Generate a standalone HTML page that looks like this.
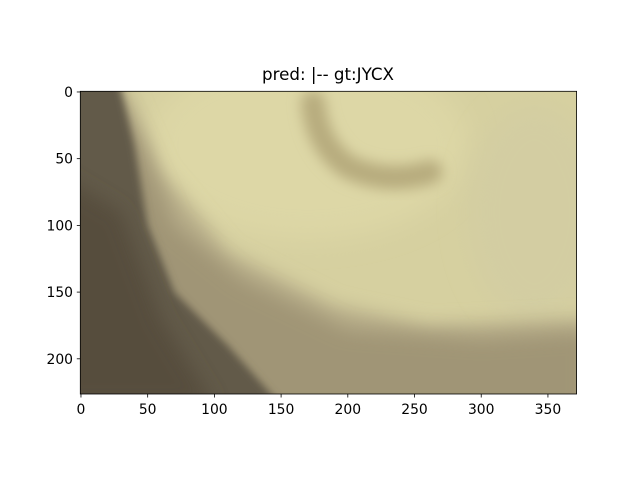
<!DOCTYPE html>
<html><head><meta charset="utf-8"><style>
html,body{margin:0;padding:0;background:#fff;}
svg{display:block;font-family:"DejaVu Sans","Liberation Sans",sans-serif;}
</style></head><body>
<svg width="640" height="480" viewBox="0 0 640 480">
<defs>
<filter id="b6" x="-20%" y="-20%" width="140%" height="140%"><feGaussianBlur stdDeviation="7"/></filter>
<filter id="b3" x="-20%" y="-20%" width="140%" height="140%"><feGaussianBlur stdDeviation="3"/></filter>
<filter id="b5" x="-30%" y="-30%" width="160%" height="160%"><feGaussianBlur stdDeviation="5"/></filter>
<filter id="b10" x="-30%" y="-30%" width="160%" height="160%"><feGaussianBlur stdDeviation="10"/></filter>
<clipPath id="clip"><rect x="-0.5" y="-0.5" width="372" height="227"/></clipPath>
</defs>
<text x="328" y="80" font-size="16.7" text-anchor="middle">pred: |-- gt:JYCX</text>
<svg x="80.3" y="91.3" width="496.3" height="302.7" viewBox="-0.5 -0.5 372 227" preserveAspectRatio="none">
<g clip-path="url(#clip)">
<rect x="-20" y="-20" width="420" height="270" fill="#d6d0a0"/>
<ellipse cx="170" cy="40" rx="120" ry="70" fill="#ddd7a6" filter="url(#b10)"/>
<ellipse cx="340" cy="90" rx="50" ry="80" fill="#d3cda2" filter="url(#b10)"/>
<path d="M30,-10 L60,60 L110,120 L190,160 L260,175 L380,170 L380,240 L-20,240 Z" fill="#b6ac88" filter="url(#b6)"/>
<path d="M20,-10 L45,40 L70,100 L120,140 L200,178 L300,185 L380,180 L380,240 L-20,240 Z" fill="#a09576" filter="url(#b6)"/>
<path d="M-20,-10 L28,-10 L40,40 L50,100 L70,150 L110,190 L150,235 L-20,235 Z" fill="#625a48" filter="url(#b3)"/>
<path d="M-20,60 L30,90 L60,170 L100,235 L-20,235 Z" fill="#564e3e" filter="url(#b6)"/>
<path d="M174,8 Q177,40 200,56 Q230,70 262,60" stroke="#b7ac7e" stroke-width="18" fill="none" stroke-linecap="round" filter="url(#b5)"/>
</g>
</svg>
<rect x="80.3" y="91.3" width="496.3" height="302.7" fill="none" stroke="#000" stroke-width="0.8"/>
<g id="xt"></g>
<g id="yt"></g>
<script>
const xTicks=[0,50,100,150,200,250,300,350];
const yTicks=[0,50,100,150,200];
const x0=80.3,y0=91.3,s=1.3342;
const ns="http://www.w3.org/2000/svg";
const xt=document.getElementById('xt'),yt=document.getElementById('yt');
xTicks.forEach(v=>{
 const px=x0+(v+0.5)*s;
 const l=document.createElementNS(ns,'line');
 
 
 l.setAttribute('x1',px);l.setAttribute('x2',px);l.setAttribute('y1',394);l.setAttribute('y2',397.5);l.setAttribute('stroke','#000');l.setAttribute('stroke-width','0.8');
 xt.appendChild(l);
 const t=document.createElementNS(ns,'text');
 
 
 t.setAttribute('x',px);t.setAttribute('y',414);t.setAttribute('font-size','13.9');t.setAttribute('text-anchor','middle');
 t.textContent=v;xt.appendChild(t);
});
yTicks.forEach(v=>{
 const py=y0+(v+0.5)*s;
 const l=document.createElementNS(ns,'line');
 
 
 l.setAttribute('x1',76.8);l.setAttribute('x2',80.3);l.setAttribute('y1',py);l.setAttribute('y2',py);l.setAttribute('stroke','#000');l.setAttribute('stroke-width','0.8');
 yt.appendChild(l);
 const t=document.createElementNS(ns,'text');
 
 
 t.setAttribute('x',73);t.setAttribute('y',py+5);t.setAttribute('font-size','13.9');t.setAttribute('text-anchor','end');
 t.textContent=v;yt.appendChild(t);
});
</script>
</svg>
</body></html>
